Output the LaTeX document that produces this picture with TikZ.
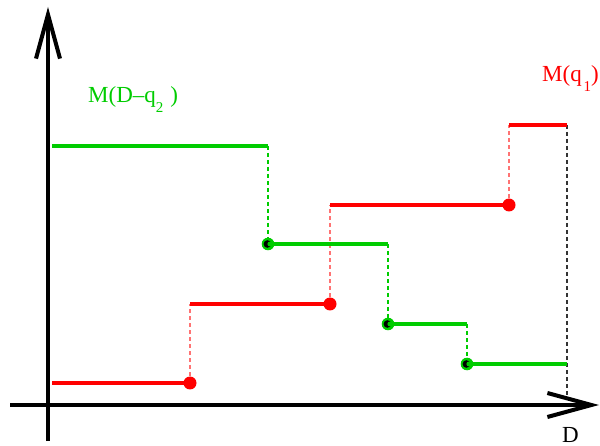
\documentclass[tikz,border=0pt]{standalone}
\usepackage{fontspec}
\setmainfont{Liberation Serif}
\usetikzlibrary{arrows.meta}
\definecolor{gr}{RGB}{0,204,0}
\definecolor{rd}{RGB}{255,0,0}
\tikzset{
  axis/.style={line width=4pt,-{Straight Barb[length=44pt,width=24pt,line width=4pt]}},
  rstep/.style={rd,line width=4pt},
  gstep/.style={gr,line width=4pt},
  rdash/.style={rd!55,line width=1.3pt,dash pattern=on 4pt off 3pt},
  gdash/.style={gr,line width=1.3pt,dash pattern=on 4pt off 3pt},
  kdash/.style={black!80,line width=1.1pt,dash pattern=on 4pt off 3pt},
  lbl/.style={anchor=base west,inner sep=0pt,font=\fontsize{23}{26}\selectfont},
}
\newcommand{\rdot}[1]{\fill[rd] (#1) circle (6.5pt);}
\newcommand{\gdot}[1]{\fill[gr] (#1) circle (6.3pt);
  \fill[black] ([xshift=-0.6pt]#1) circle (3.8pt);
  \fill[gr] ([xshift=1.8pt]#1) circle (2.4pt);}
\begin{document}
\begin{tikzpicture}[x=1pt,y=-1pt]
\useasboundingbox (0,0) rectangle (600,446);
% axes
\coordinate (ybot) at (48,441);
\coordinate (ytop) at (48,7);
\coordinate (xl) at (10,405);
\coordinate (xr) at (599,405);
\draw[axis] (ybot) -- (ytop);
\draw[axis] (xl) -- (xr);
\node[lbl] (D) at (562,442) {D};
% red steps
\coordinate (r0) at (52,383);
\coordinate (r1) at (190,383);
\coordinate (r1u) at (190,304);
\coordinate (r2) at (330,304);
\coordinate (r2u) at (330,205);
\coordinate (r3) at (509,205);
\coordinate (r3u) at (509,125);
\coordinate (r4) at (567,125);
\coordinate (r4d) at (567,398);
\draw[rdash] (r1) -- (r1u);
\draw[rdash] (r2) -- (r2u);
\draw[rdash] (r3) -- (r3u);
\draw[kdash] (r4) -- (r4d);
% green steps
\coordinate (g0) at (52,146);
\coordinate (g1) at (268,146);
\coordinate (g1d) at (268,244);
\coordinate (g2) at (388,244);
\coordinate (g2d) at (388,324);
\coordinate (g3) at (467,324);
\coordinate (g3d) at (467,364);
\coordinate (g4) at (567,364);
\draw[gdash] (g1) -- (g1d);
\draw[gdash] (g2) -- (g2d);
\draw[gdash] (g3) -- (g3d);
\draw[gstep] (g0) -- (g1);
\draw[gstep] (g1d) -- (g2);
\draw[gstep] (g2d) -- (g3);
\draw[gstep] (g3d) -- (g4);
\draw[rstep] (r0) -- (r1);
\draw[rstep] (r1u) -- (r2);
\draw[rstep] (r2u) -- (r3);
\draw[rstep] (r3u) -- (r4);
\rdot{r1}
\rdot{r2}
\rdot{r3}
\gdot{g1d}
\gdot{g2d}
\gdot{g3d}
% labels
\node[lbl,text=gr] (Lg) at (88,103) {M(D–q\raisebox{-0.4em}{\fontsize{15}{15}\selectfont 2}\kern0.3em)};
\node[lbl,text=rd] (Lr) at (542,82) {M(q\kern0.08em\raisebox{-0.4em}{\fontsize{15}{15}\selectfont 1})};
\end{tikzpicture}
\end{document}
